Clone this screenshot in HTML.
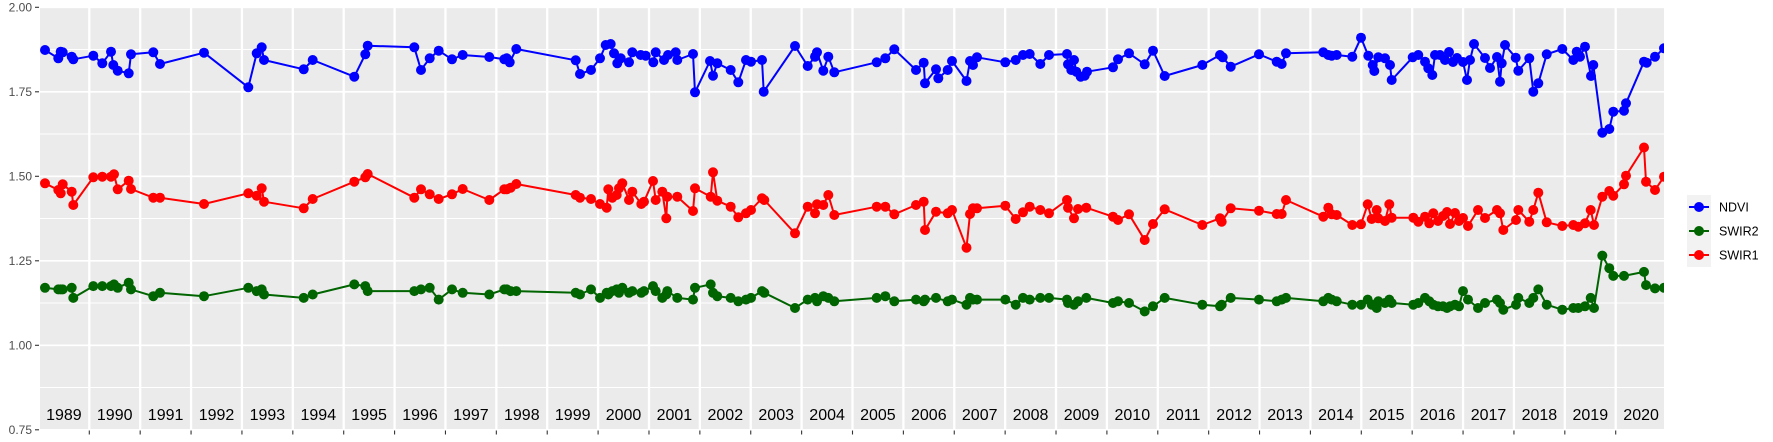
<!DOCTYPE html>
<html><head><meta charset="utf-8"><style>
html,body{margin:0;padding:0;background:#fff;}
svg{display:block;}
</style></head><body>
<svg width="1773" height="442" viewBox="0 0 1773 442" xmlns="http://www.w3.org/2000/svg">
<defs>
<clipPath id="pc"><rect x="40" y="7" width="1624" height="423"/></clipPath>
<marker id="mb" markerWidth="12" markerHeight="12" refX="6" refY="6" markerUnits="userSpaceOnUse"><circle cx="6" cy="6" r="5" fill="#0000ff"/></marker>
<marker id="mr" markerWidth="12" markerHeight="12" refX="6" refY="6" markerUnits="userSpaceOnUse"><circle cx="6" cy="6" r="5" fill="#ff0000"/></marker>
<marker id="mg" markerWidth="12" markerHeight="12" refX="6" refY="6" markerUnits="userSpaceOnUse"><circle cx="6" cy="6" r="5" fill="#006400"/></marker>
</defs>
<rect x="0" y="0" width="1773" height="442" fill="#fff"/>
<rect x="40" y="7" width="1624" height="423" fill="#ebebeb"/>
<g clip-path="url(#pc)">
<g stroke="#fff" stroke-width="0.9">
<line x1="40" x2="1664" y1="49.5" y2="49.5"/>
<line x1="40" x2="1664" y1="134" y2="134"/>
<line x1="40" x2="1664" y1="218.5" y2="218.5"/>
<line x1="40" x2="1664" y1="303" y2="303"/>
<line x1="40" x2="1664" y1="387.5" y2="387.5"/>
</g>
<g stroke="#fff" stroke-width="1.6">
<line x1="40" x2="1664" y1="7.3" y2="7.3"/>
<line x1="40" x2="1664" y1="91.8" y2="91.8"/>
<line x1="40" x2="1664" y1="176.3" y2="176.3"/>
<line x1="40" x2="1664" y1="260.8" y2="260.8"/>
<line x1="40" x2="1664" y1="345.3" y2="345.3"/>
<line x1="40" x2="1664" y1="429.8" y2="429.8"/>
</g>
<g stroke="#fff" stroke-width="2.3">
<line x1="89.3" x2="89.3" y1="7" y2="430"/>
<line x1="140.18" x2="140.18" y1="7" y2="430"/>
<line x1="191.06" x2="191.06" y1="7" y2="430"/>
<line x1="241.94" x2="241.94" y1="7" y2="430"/>
<line x1="292.82" x2="292.82" y1="7" y2="430"/>
<line x1="343.7" x2="343.7" y1="7" y2="430"/>
<line x1="394.58" x2="394.58" y1="7" y2="430"/>
<line x1="445.46" x2="445.46" y1="7" y2="430"/>
<line x1="496.34" x2="496.34" y1="7" y2="430"/>
<line x1="547.22" x2="547.22" y1="7" y2="430"/>
<line x1="598.1" x2="598.1" y1="7" y2="430"/>
<line x1="648.98" x2="648.98" y1="7" y2="430"/>
<line x1="699.86" x2="699.86" y1="7" y2="430"/>
<line x1="750.74" x2="750.74" y1="7" y2="430"/>
<line x1="801.62" x2="801.62" y1="7" y2="430"/>
<line x1="852.5" x2="852.5" y1="7" y2="430"/>
<line x1="903.38" x2="903.38" y1="7" y2="430"/>
<line x1="954.26" x2="954.26" y1="7" y2="430"/>
<line x1="1005.14" x2="1005.14" y1="7" y2="430"/>
<line x1="1056.02" x2="1056.02" y1="7" y2="430"/>
<line x1="1106.9" x2="1106.9" y1="7" y2="430"/>
<line x1="1157.78" x2="1157.78" y1="7" y2="430"/>
<line x1="1208.66" x2="1208.66" y1="7" y2="430"/>
<line x1="1259.54" x2="1259.54" y1="7" y2="430"/>
<line x1="1310.42" x2="1310.42" y1="7" y2="430"/>
<line x1="1361.3" x2="1361.3" y1="7" y2="430"/>
<line x1="1412.18" x2="1412.18" y1="7" y2="430"/>
<line x1="1463.06" x2="1463.06" y1="7" y2="430"/>
<line x1="1513.94" x2="1513.94" y1="7" y2="430"/>
<line x1="1564.82" x2="1564.82" y1="7" y2="430"/>
<line x1="1615.7" x2="1615.7" y1="7" y2="430"/>
</g>

<!-- NDVI -->
<polyline fill="none" stroke="#0000ff" stroke-width="2" stroke-linejoin="round" marker-start="url(#mb)" marker-mid="url(#mb)" marker-end="url(#mb)" points="45,50 58.3,58.3 60.7,51.7 62.7,52.3 71.7,56.7 73.3,59.3 93.3,55.7 102.3,63.3 111,51.7 113.3,65 117.7,70.7 128.7,73.3 131,54.3 153.3,52.3 160,64 204,52.7 248.3,87.3 256.7,53.3 261.7,47.3 264,60 303.7,69.3 312.7,60 354.3,76.7 365.3,54.3 367.7,45.7 414.3,47.3 421,70 429.7,58.3 438.7,50.7 452,59.3 462.7,55 489.3,57 504.3,59.3 506.7,58.3 509.7,62.3 516.3,49 575.7,60.3 580,74 591,70 600,58.3 605.7,45 610.7,44 614,53.3 617.3,63.3 620.7,58.3 629,62.3 632.3,52.3 640.7,55 645.7,55.7 653.3,62.3 655.7,52.3 664,60 668,55 675.7,52.3 677.3,60 693,54 695,92.3 710,61 713,75.7 717.3,63.3 730.7,70 738.3,82.3 746,60 751,61.7 762,60 763.7,91.7 795,46 807.7,66 815,56.7 817,52.3 823.3,70.7 828.3,56.7 834.3,72.3 876.7,62.3 885.3,58.3 894.3,49.3 916,70 923.7,62.7 925,83.3 936,69.3 938.3,78.3 947.7,70 952,61 966.5,81 970,61 973,65 977,57.3 1005.3,62.3 1015.7,60 1023,55 1029.7,54 1040.3,64 1049,55 1067,54 1068,64.3 1071.3,70 1074,60 1076.3,71.7 1080.7,76.7 1084.7,75.7 1087,71.7 1113,67.3 1118,59.3 1129,53.3 1144.7,64.3 1153,50.7 1164.7,76 1202.3,65 1220,55 1222.7,57.3 1230.7,66.7 1259,54.3 1276.7,61.7 1281.7,64 1286,53.3 1323.3,52.3 1328.3,55 1331.7,55.7 1336.7,55 1352.3,56.7 1361,37.7 1368.3,55.7 1372.7,65 1374.3,71 1378.3,57.3 1385,58.3 1390,65 1391.7,80 1412.7,57.3 1418.3,55 1425,61.7 1428.3,68.3 1432.3,75 1435,55 1440,55 1445,60 1449,52 1453,62 1457,58 1463,62 1467,80 1470,60 1474,44 1485,58 1490,68 1497,57 1500,81.7 1501.7,63.3 1505,45 1515.7,57.7 1518.3,70.7 1529.3,58.3 1533.3,91.7 1538.3,83.3 1546.7,54.3 1562.3,49 1573.3,60 1576.7,51.7 1580,56.7 1585,46.7 1591,76 1593.3,65 1602.3,132.7 1609.3,129 1613.3,111.7 1624,110.7 1626,103.3 1644,61.7 1646.7,62.7 1655,56.7 1664,48.3"/>

<!-- SWIR2 -->
<polyline fill="none" stroke="#006400" stroke-width="2" stroke-linejoin="round" marker-start="url(#mg)" marker-mid="url(#mg)" marker-end="url(#mg)" points="45,287.8 58.3,289.4 60.7,289.4 62.7,289.4 71.7,287.8 73.3,297.9 93.3,286.1 102.3,286.1 111,286.1 114,284.4 117.7,287.8 128.7,282.7 131,289.4 153.3,296.2 160,292.8 204,296.2 248.3,287.8 256.7,291.1 261.7,289.4 264,294.5 303.7,297.9 312.7,294.5 354.3,284.4 365.3,286.1 367.7,291.1 414.3,291.1 421,289.4 429.7,287.8 438.7,299.6 452,289.4 462.7,292.8 489.3,294.5 504.3,289.4 506.7,289.4 510.7,291.1 516.3,291.1 575.7,292.8 580,294.5 591,289.4 600,297.9 606.7,292.8 608.3,294.5 612.3,291.1 616.7,289.4 619,292.8 622.3,287.8 629,292.8 632.3,291.1 641.3,292.8 644,291.1 653,286.1 655.7,291.1 662.3,297.9 666.3,294.5 667.3,291.1 677.3,297.9 693,299.6 695,287.8 710.7,284.4 713,292.8 717.3,296.2 730.7,297.9 738.3,301.3 746,299.6 751,297.9 762,291.1 764.3,292.8 795,308 807.7,299.6 815,297.9 817,301.3 823.3,296.2 828.3,297.9 834.3,301.3 876.7,297.9 885.3,296.2 894.3,301.3 916,299.6 923.7,301.3 925,299.6 936,297.9 947.7,301.3 952,299.6 966.5,304.7 970,297.9 973,299.6 977,299.6 1005.3,299.6 1015.7,304.7 1023,297.9 1029.7,299.6 1040.3,297.9 1049,297.9 1067,299.6 1068,303 1074,304.7 1078,301.3 1086.3,297.9 1113,303 1118,301.3 1129,303 1144.7,311.4 1153,306.3 1164.7,297.9 1202.3,304.7 1220,306.3 1221.7,304.7 1230.7,297.9 1259,299.6 1276.7,301.3 1281.7,299.6 1286,297.9 1323.3,301.3 1328.3,297.9 1331.7,299.6 1336.7,301.3 1352.3,304.7 1361,304.7 1367.7,299.6 1371.7,304.7 1376.7,308 1378.3,301.3 1385,303 1389.3,299.6 1391.7,303 1413.3,304.7 1418.3,303 1425,297.9 1429.3,301.3 1433.3,304.7 1438,306.3 1443,306.3 1447,308 1450,306.3 1455,304.7 1459,306.3 1463,291.1 1468,299.6 1478,308 1485,303 1497,299.6 1500,303 1503.3,309.7 1516,304.7 1518.3,297.9 1529.3,303 1533.3,297.9 1538.3,289.4 1546.7,304.7 1562.3,309.7 1573.3,308 1578.3,308 1585,306.3 1590.7,297.9 1594,308 1602.3,255.6 1609.3,268.2 1613.3,275.9 1624,275.9 1644,271.9 1646,285.1 1655,288.4 1664,287.8"/>

<!-- SWIR1 -->
<polyline fill="none" stroke="#ff0000" stroke-width="2" stroke-linejoin="round" marker-start="url(#mr)" marker-mid="url(#mr)" marker-end="url(#mr)" points="45,183.3 58.3,190 60.7,193.3 62.7,184.3 71.7,191.7 73.3,205 93.3,177.3 102.3,176.7 111,176.7 114,174.3 117.7,189.3 128.7,180.7 131,189 153.3,197.7 160,197.7 204,204 248.3,193.3 256.7,195.7 261.7,188.3 264,201.7 303.7,208.3 312.7,199 354.3,181.7 365.3,177.3 367.7,174 414.3,197.7 421,189.3 429.7,194.3 438.7,199 452,194.3 462.7,189 489.3,200 504.3,189.3 506.7,189.3 510.7,187.7 516.3,184 575.7,195 580,197.7 591,199 600,204 606.7,207.7 608.3,189.3 612.3,197.7 616.7,195 619,188.3 622.3,183.3 629,200 632.3,191.7 641.3,204 644,201.7 653,181 655.7,200 662.3,191.7 666.3,218.3 667.3,196.7 677.3,196.7 693,211 695,188.3 710.7,196.7 713,172.3 717.3,200.7 730.7,206.7 738.3,217.3 746,213.3 751,210 762,198.3 764.3,200 795,233.3 807.7,206.7 815,213.3 817,204.3 823.3,205 828.3,195 834.3,215 876.7,206.7 885.3,206.7 894.3,214.3 916,205 923.7,201.7 925,230 936,211.7 947.7,213.3 952,210 966.5,247.7 970,214 973,208.3 977,208.3 1005.3,205.7 1015.7,219 1023,212.3 1029.7,206.7 1040.3,210 1049,213.3 1067,200 1068,207.7 1074,218.3 1078,209 1086.3,207.7 1113,216.7 1118,220 1129,214.3 1144.7,240 1153,224 1164.7,209.3 1202.3,225 1220,218.3 1221.7,221.7 1230.7,208.3 1259,210.7 1276.7,214 1281.7,214 1286,200 1323.3,216.7 1328.3,207.7 1331.7,214.3 1336.7,215 1352.3,225 1361,224.3 1367.7,204.3 1371.7,219 1376.7,210 1378.3,218.3 1385,221 1389.3,204.3 1391.7,217.7 1413.3,217.7 1418.3,221.7 1425,216.7 1429.3,223.3 1433.3,213.3 1438,221 1443,216 1447,212 1450,224 1455,213 1459,221 1463,218 1468,226 1478,210 1485,218 1497,210 1500,213.3 1503.3,230 1516,220 1518.3,210 1529.3,221.7 1533.3,210 1538.3,192.7 1546.7,222.3 1562.3,226 1573.3,225 1578.3,226.7 1585,223.3 1590.7,210 1594,225 1602.3,196.7 1609.3,191 1613.3,195.7 1624,184.3 1626,175.7 1644,147.5 1646,181.7 1655,190 1664,176.7"/>

<!-- year labels -->
<g font-family="Liberation Sans, Arial, sans-serif" font-size="16" fill="#000" text-anchor="middle">
<text x="63.9" y="420">1989</text>
<text x="114.7" y="420">1990</text>
<text x="165.6" y="420">1991</text>
<text x="216.5" y="420">1992</text>
<text x="267.4" y="420">1993</text>
<text x="318.3" y="420">1994</text>
<text x="369.1" y="420">1995</text>
<text x="420" y="420">1996</text>
<text x="470.9" y="420">1997</text>
<text x="521.8" y="420">1998</text>
<text x="572.7" y="420">1999</text>
<text x="623.5" y="420">2000</text>
<text x="674.4" y="420">2001</text>
<text x="725.3" y="420">2002</text>
<text x="776.2" y="420">2003</text>
<text x="827.1" y="420">2004</text>
<text x="877.9" y="420">2005</text>
<text x="928.8" y="420">2006</text>
<text x="979.7" y="420">2007</text>
<text x="1030.6" y="420">2008</text>
<text x="1081.5" y="420">2009</text>
<text x="1132.3" y="420">2010</text>
<text x="1183.2" y="420">2011</text>
<text x="1234.1" y="420">2012</text>
<text x="1285" y="420">2013</text>
<text x="1335.9" y="420">2014</text>
<text x="1386.7" y="420">2015</text>
<text x="1437.6" y="420">2016</text>
<text x="1488.5" y="420">2017</text>
<text x="1539.4" y="420">2018</text>
<text x="1590.3" y="420">2019</text>
<text x="1641.1" y="420">2020</text>
</g>
</g>

<!-- axis ticks -->
<g stroke="#333" stroke-width="1.1">
<line x1="35" x2="39" y1="7.3" y2="7.3"/>
<line x1="35" x2="39" y1="91.8" y2="91.8"/>
<line x1="35" x2="39" y1="176.3" y2="176.3"/>
<line x1="35" x2="39" y1="260.8" y2="260.8"/>
<line x1="35" x2="39" y1="345.3" y2="345.3"/>
<line x1="35" x2="39" y1="429.8" y2="429.8"/>
<line x1="89.3" x2="89.3" y1="430.5" y2="434.5"/>
<line x1="140.18" x2="140.18" y1="430.5" y2="434.5"/>
<line x1="191.06" x2="191.06" y1="430.5" y2="434.5"/>
<line x1="241.94" x2="241.94" y1="430.5" y2="434.5"/>
<line x1="292.82" x2="292.82" y1="430.5" y2="434.5"/>
<line x1="343.7" x2="343.7" y1="430.5" y2="434.5"/>
<line x1="394.58" x2="394.58" y1="430.5" y2="434.5"/>
<line x1="445.46" x2="445.46" y1="430.5" y2="434.5"/>
<line x1="496.34" x2="496.34" y1="430.5" y2="434.5"/>
<line x1="547.22" x2="547.22" y1="430.5" y2="434.5"/>
<line x1="598.1" x2="598.1" y1="430.5" y2="434.5"/>
<line x1="648.98" x2="648.98" y1="430.5" y2="434.5"/>
<line x1="699.86" x2="699.86" y1="430.5" y2="434.5"/>
<line x1="750.74" x2="750.74" y1="430.5" y2="434.5"/>
<line x1="801.62" x2="801.62" y1="430.5" y2="434.5"/>
<line x1="852.5" x2="852.5" y1="430.5" y2="434.5"/>
<line x1="903.38" x2="903.38" y1="430.5" y2="434.5"/>
<line x1="954.26" x2="954.26" y1="430.5" y2="434.5"/>
<line x1="1005.14" x2="1005.14" y1="430.5" y2="434.5"/>
<line x1="1056.02" x2="1056.02" y1="430.5" y2="434.5"/>
<line x1="1106.9" x2="1106.9" y1="430.5" y2="434.5"/>
<line x1="1157.78" x2="1157.78" y1="430.5" y2="434.5"/>
<line x1="1208.66" x2="1208.66" y1="430.5" y2="434.5"/>
<line x1="1259.54" x2="1259.54" y1="430.5" y2="434.5"/>
<line x1="1310.42" x2="1310.42" y1="430.5" y2="434.5"/>
<line x1="1361.3" x2="1361.3" y1="430.5" y2="434.5"/>
<line x1="1412.18" x2="1412.18" y1="430.5" y2="434.5"/>
<line x1="1463.06" x2="1463.06" y1="430.5" y2="434.5"/>
<line x1="1513.94" x2="1513.94" y1="430.5" y2="434.5"/>
<line x1="1564.82" x2="1564.82" y1="430.5" y2="434.5"/>
<line x1="1615.7" x2="1615.7" y1="430.5" y2="434.5"/>
</g>

<!-- y labels -->
<g font-family="Liberation Sans, Arial, sans-serif" font-size="12" fill="#4d4d4d" text-anchor="end">
<text x="32" y="11.6">2.00</text>
<text x="32" y="96.1">1.75</text>
<text x="32" y="180.6">1.50</text>
<text x="32" y="265.1">1.25</text>
<text x="32" y="349.6">1.00</text>
<text x="32" y="434.1">0.75</text>
</g>

<!-- legend -->
<rect x="1687" y="195" width="24" height="72" fill="#f2f2f2"/>
<g stroke-width="2">
<line x1="1689" x2="1709" y1="207" y2="207" stroke="#0000ff"/>
<line x1="1689" x2="1709" y1="231" y2="231" stroke="#006400"/>
<line x1="1689" x2="1709" y1="255" y2="255" stroke="#ff0000"/>
</g>
<circle cx="1699" cy="207" r="5" fill="#0000ff"/>
<circle cx="1699" cy="231" r="5" fill="#006400"/>
<circle cx="1699" cy="255" r="5" fill="#ff0000"/>
<g font-family="Liberation Sans, Arial, sans-serif" font-size="12.5" fill="#000">
<text x="1719" y="211.5">NDVI</text>
<text x="1719" y="235.5">SWIR2</text>
<text x="1719" y="259.5">SWIR1</text>
</g>
</svg>
</body></html>
